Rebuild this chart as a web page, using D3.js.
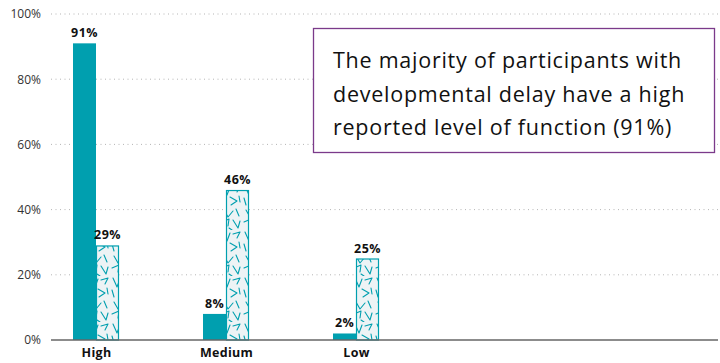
<!DOCTYPE html>
<html>
<head>
<meta charset="utf-8">
<script src="https://cdn.jsdelivr.net/npm/d3@7"></script>
<style>
  html, body { margin: 0; padding: 0; background: #fff; }
  svg { display: block; }
  text { font-family: "Open Sans", "Noto Sans", sans-serif; }
</style>
</head>
<body>
<svg id="chart" width="720" height="363"></svg>
<script>
// Level of function reported, by group
const categories = ["High", "Medium", "Low"];
const delayValues = [91, 8, 2];      // participants with developmental delay
const otherValues = [29, 46, 25];    // comparison group (patterned bars)
const yTicks = [0, 20, 40, 60, 80, 100];
const noteLines = [
  "The majority of participants with",
  "developmental delay have a high",
  "reported level of function (91%)"
];

const W = 720, H = 363;
const plot = { left: 51, right: 720, top: 14, bottom: 340 };
const teal = "#009faf";
const svg = d3.select("#chart");

// Fill pattern of scattered strokes, chevrons and open arrows
const defs = svg.append("defs");
const pat = defs.append("pattern")
  .attr("id", "ticks")
  .attr("patternUnits", "userSpaceOnUse")
  .attr("width", 22).attr("height", 46);
pat.append("rect").attr("width", 22).attr("height", 46).attr("fill", "#edf3f5");
const glyphs = [
  "M3,2 L7,11 L10,3",          // chevron
  "M13,4 L20,2 L17,8",          // open arrow
  "M2,14 L4,21",                // stroke
  "M10,13 L17,17 L11,21",       // sideways chevron
  "M19,12 L20,18",
  "M4,26 L8,33 L13,27",
  "M16,25 L19,32",
  "M2,38 L9,35 L8,42",
  "M13,36 L18,44 L20,37",
  "M9,44 L12,46"
];
pat.selectAll("path").data(glyphs).join("path")
  .attr("d", d => d)
  .attr("fill", "none")
  .attr("stroke", teal)
  .attr("stroke-width", 1.1)
  .attr("stroke-linecap", "round")
  .attr("stroke-linejoin", "round");

const x = d3.scalePoint().domain(categories).range([96, 356]);
const y = d3.scaleLinear().domain([0, 100]).range([plot.bottom, plot.top]);
const barW = 23;

// Gridlines
svg.append("g").selectAll("line").data(yTicks.filter(t => t > 0)).join("line")
  .attr("x1", plot.left).attr("x2", plot.right)
  .attr("y1", d => y(d)).attr("y2", d => y(d))
  .attr("stroke", "#b5b5b5").attr("stroke-width", 1)
  .attr("stroke-dasharray", "1,3.5");

// Y axis labels
const yAxis = d3.axisLeft(y).tickValues(yTicks).tickFormat(d => d + "%").tickSize(0).tickPadding(8);
const gy = svg.append("g").attr("transform", `translate(${plot.left},0)`).call(yAxis);
gy.select(".domain").remove();
gy.selectAll("text").attr("font-size", 12).attr("fill", "#333")
  .attr("text-anchor", "end").attr("x", -10);

// Solid bars
svg.append("g").selectAll("rect").data(delayValues).join("rect")
  .attr("x", (d, i) => x(categories[i]) - barW)
  .attr("y", d => y(d))
  .attr("width", barW)
  .attr("height", d => y(0) - y(d))
  .attr("fill", teal);

// Patterned bars
svg.append("g").selectAll("rect").data(otherValues).join("rect")
  .attr("x", (d, i) => x(categories[i]) + 0.5)
  .attr("y", d => y(d) + 0.5)
  .attr("width", barW - 1)
  .attr("height", d => y(0) - y(d) - 0.5)
  .attr("fill", "url(#ticks)")
  .attr("stroke", teal)
  .attr("stroke-width", 1.2);

// Value labels
const lbl = (vals, dx) => svg.append("g").selectAll("text").data(vals).join("text")
  .attr("x", (d, i) => x(categories[i]) + dx)
  .attr("y", d => y(d) - 6)
  .attr("text-anchor", "middle")
  .attr("font-size", 12.5).attr("font-weight", 700).attr("fill", "#111")
  .attr("letter-spacing", 0.4)
  .text(d => d + "%");
lbl(delayValues, -barW / 2);
lbl(otherValues, barW / 2);

// Baseline
svg.append("line")
  .attr("x1", plot.left).attr("x2", plot.right - 2)
  .attr("y1", y(0)).attr("y2", y(0))
  .attr("stroke", "#666").attr("stroke-width", 1.5);

// Category labels
const xAxis = d3.axisBottom(x).tickSize(0).tickPadding(8);
const gx = svg.append("g").attr("transform", `translate(0,${plot.bottom})`).call(xAxis);
gx.select(".domain").remove();
gx.selectAll("text").attr("font-size", 12.5).attr("font-weight", 700).attr("fill", "#111")
  .attr("letter-spacing", 0.3);

// Callout box
const note = svg.append("g");
note.append("rect")
  .attr("x", 313.5).attr("y", 28.5).attr("width", 401).attr("height", 124)
  .attr("fill", "#fff").attr("stroke", "#7b3a8a").attr("stroke-width", 1.3);
note.append("text")
  .attr("font-size", 21.5).attr("fill", "#111")
  .attr("letter-spacing", 0.75)
  .selectAll("tspan").data(noteLines).join("tspan")
  .attr("x", 333).attr("y", (d, i) => 68 + i * 33.5)
  .text(d => d);
</script>
</body>
</html>
